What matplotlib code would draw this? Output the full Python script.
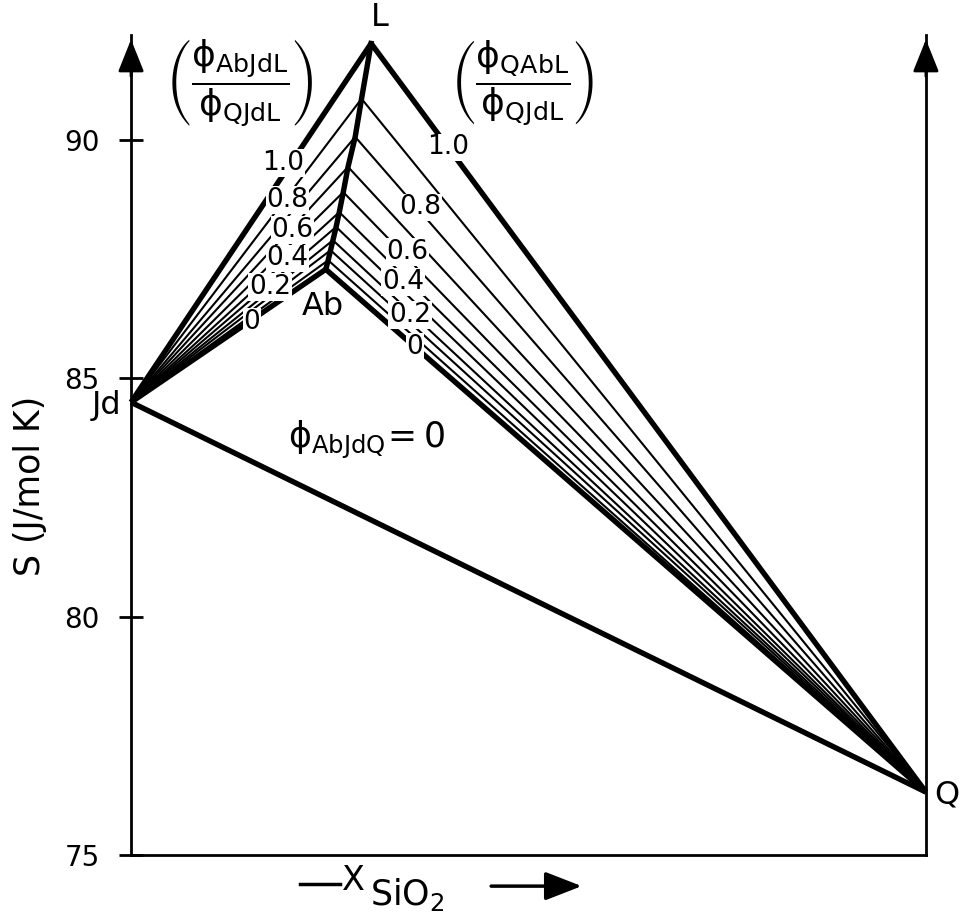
import matplotlib
matplotlib.use("Agg")
import matplotlib.pyplot as plt

# =====================================================
# Data
# =====================================================

# ratio along the Ab-L curve
ratios = [0.0, 0.1, 0.2, 0.3, 0.4, 0.5, 0.6, 0.7, 0.8, 0.9, 1.0]
node_x = [0.245, 0.248, 0.251, 0.254, 0.258, 0.262, 0.267, 0.273, 0.282, 0.290, 0.302]
node_s = [87.29, 87.48, 87.69, 87.90, 88.18, 88.49, 88.91, 89.44, 90.07, 90.87, 92.03]

jd_x, jd_s = 0.0, 84.50
q_x, q_s = 1.0, 76.32

label_values = ["1.0", "0.8", "0.6", "0.4", "0.2", "0"]
left_label_x = [0.191, 0.197, 0.203, 0.197, 0.175, 0.152]
left_label_s = [89.52, 88.74, 88.11, 87.52, 86.92, 86.18]
right_label_x = [0.399, 0.364, 0.348, 0.342, 0.351, 0.357]
right_label_s = [89.85, 88.59, 87.65, 87.02, 86.33, 85.66]

yticks = [75, 80, 85, 90]

# =====================================================
# Figure
# =====================================================

plt.rcParams["font.family"] = "DejaVu Sans"
plt.rcParams["mathtext.fontset"] = "dejavusans"

fig = plt.figure(figsize=(9.6, 9.23), dpi=100)
ax = fig.add_axes([0.1365, 0.0737, 0.828, 0.888])

ax.set_xlim(0, 1)
ax.set_ylim(75, 92.2)

thick = 3.9
thin = 1.5

# fan lines from Jd and Q to each node on the Ab-L curve
for r, nx, ns in zip(ratios, node_x, node_s):
    lw = thick if r in (0.0, 1.0) else thin
    ax.plot([jd_x, nx], [jd_s, ns], color="black", lw=lw,
            solid_capstyle="butt", clip_on=False, zorder=2)
    ax.plot([nx, q_x], [ns, q_s], color="black", lw=lw,
            solid_capstyle="butt", clip_on=False, zorder=2)

# Ab-L curve
ax.plot(node_x, node_s, color="black", lw=thick,
        solid_joinstyle="round", clip_on=False, zorder=3)

# Jd-Q join
ax.plot([jd_x, q_x], [jd_s, q_s], color="black", lw=thick,
        solid_capstyle="butt", clip_on=False, zorder=2)

# ratio labels (white box cuts the lines)
box = dict(facecolor="white", edgecolor="none", pad=0.5)
for txt, x, s in zip(label_values, left_label_x, left_label_s):
    ax.text(x, s, txt, fontsize=19, ha="center", va="center",
            bbox=box, zorder=5)
for txt, x, s in zip(label_values, right_label_x, right_label_s):
    ax.text(x, s, txt, fontsize=19, ha="center", va="center",
            bbox=box, zorder=5)

# point names
ax.text(0.313, 92.58, "L", fontsize=23, ha="center", va="center", clip_on=False)
ax.text(0.2415, 86.51, "Ab", fontsize=23, ha="center", va="center")
ax.text(-0.031, 84.44, "Jd", fontsize=23, ha="center", va="center", clip_on=False)
ax.text(1.026, 76.26, "Q", fontsize=23, ha="center", va="center", clip_on=False)

ax.text(0.296, 83.71, r"$\mathrm{\phi}_{\mathrm{AbJdQ}}\!=0$", fontsize=25,
        ha="center", va="center")

ax.text(0.136, 91.19,
        r"$\left(\dfrac{\mathrm{\phi}_{\mathrm{AbJdL}}}{\mathrm{\phi}_{\mathrm{QJdL}}}\right)$",
        fontsize=26, ha="center", va="center")
ax.text(0.492, 91.19,
        r"$\left(\dfrac{\mathrm{\phi}_{\mathrm{QAbL}}}{\mathrm{\phi}_{\mathrm{QJdL}}}\right)$",
        fontsize=26, ha="center", va="center")

# =====================================================
# Axes styling
# =====================================================

ax.spines["top"].set_visible(False)
for side in ["left", "right", "bottom"]:
    ax.spines[side].set_linewidth(2)

ax.set_yticks(yticks)
ax.set_yticklabels([str(t) for t in yticks])
ax.set_xticks([])
ax.tick_params(axis="y", direction="inout", length=17, width=2,
               labelsize=20, pad=14)

ax.set_ylabel("S (J/mol K)", fontsize=25)
ax.yaxis.set_label_coords(-0.106, 0.45)

# arrow heads on top of both vertical axes
for xa in [0, 1]:
    ax.annotate(
        "",
        xy=(xa, 0.995),
        xycoords="axes fraction",
        xytext=(xa, 0.95),
        textcoords="axes fraction",
        arrowprops=dict(
            arrowstyle="-|>,head_length=0.8,head_width=0.32",
            color="black",
            lw=2,
            mutation_scale=25,
            shrinkA=0,
            shrinkB=0
        ),
        annotation_clip=False
    )

# x label: dash, X_SiO2, arrow
ax.plot([0.213, 0.263], [-0.036, -0.036], color="black", lw=2.5,
        transform=ax.transAxes, clip_on=False)
ax.text(0.266, -0.031, "X", fontsize=24,
        ha="left", va="center", transform=ax.transAxes)
ax.text(0.300, -0.048, r"$\mathrm{SiO}_2$", fontsize=25,
        ha="left", va="center", transform=ax.transAxes)
ax.annotate(
    "",
    xy=(0.567, -0.038),
    xycoords="axes fraction",
    xytext=(0.453, -0.038),
    textcoords="axes fraction",
    arrowprops=dict(
        arrowstyle="-|>,head_length=0.9,head_width=0.35",
        color="black",
        lw=2.5,
        mutation_scale=25,
        shrinkA=0,
        shrinkB=0
    ),
    annotation_clip=False
)

fig.savefig("out.png", dpi=100)
